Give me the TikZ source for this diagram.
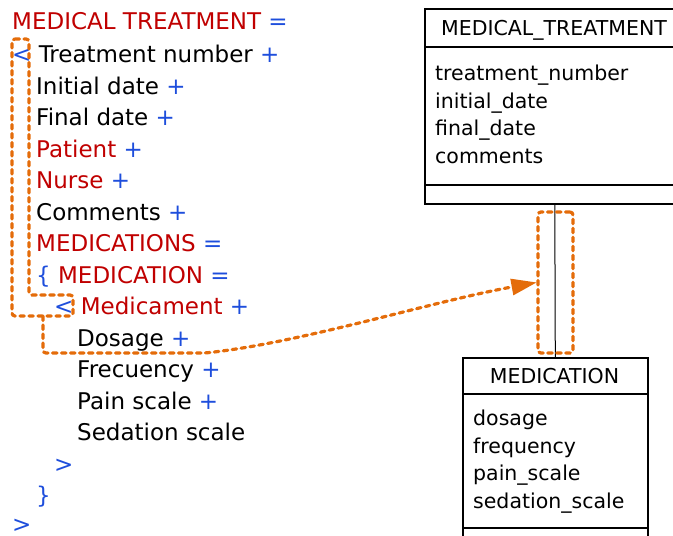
\documentclass[tikz,border=0pt]{standalone}
\usepackage{fontspec}
\setmainfont{DejaVu Sans}
\usetikzlibrary{arrows.meta}
\definecolor{dred}{RGB}{192,0,0}
\definecolor{dblue}{RGB}{30,78,220}
\definecolor{dorange}{RGB}{228,108,10}
\begin{document}
\begin{tikzpicture}[x=1pt,y=-1pt,
  txt/.style={anchor=base west,inner sep=0pt,font=\fontsize{23}{28}\selectfont},
  att/.style={anchor=base west,inner sep=0pt,font=\fontsize{20.5}{25}\selectfont},
  hdr/.style={anchor=base,inner sep=0pt,font=\fontsize{20.5}{25}\selectfont},
  box/.style={draw=black,line width=1.6pt,inner sep=0pt,anchor=north west},
  odash/.style={draw=dorange,line width=3.2pt,dash pattern=on 4.5pt off 4.5pt,line cap=round,rounded corners=3pt},
  conn/.style={draw=black,line width=1pt}]
\useasboundingbox (0,0) rectangle (673,536);
\clip (0,0) rectangle (673,536);
% left text
\node[txt] (t0) at (12,29) {\textcolor{dred}{MEDICAL TREATMENT} \textcolor{dblue}{=}};
\node[txt] (t1) at (12,62.5) {\textcolor{dblue}{<} Treatment number \textcolor{dblue}{+}};
\node[txt] (t2) at (36,94) {Initial date \textcolor{dblue}{+}};
\node[txt] (t3) at (36,125.5) {Final date \textcolor{dblue}{+}};
\node[txt] (t4) at (36,157) {\textcolor{dred}{Patient} \textcolor{dblue}{+}};
\node[txt] (t5) at (36,188.5) {\textcolor{dred}{Nurse} \textcolor{dblue}{+}};
\node[txt] (t6) at (36,220) {Comments \textcolor{dblue}{+}};
\node[txt] (t7) at (36,251.5) {\textcolor{dred}{MEDICATIONS} \textcolor{dblue}{=}};
\node[txt] (t8) at (36,283) {\textcolor{dblue}{\{} \textcolor{dred}{MEDICATION} \textcolor{dblue}{=}};
\node[txt] (t9) at (54,314.5) {\textcolor{dblue}{<} \textcolor{dred}{Medicament} \textcolor{dblue}{+}};
\node[txt] (t10) at (77,346) {Dosage \textcolor{dblue}{+}};
\node[txt] (t11) at (77,377.5) {Frecuency \textcolor{dblue}{+}};
\node[txt] (t12) at (77,409) {Pain scale \textcolor{dblue}{+}};
\node[txt] (t13) at (77,440.5) {Sedation scale};
\node[txt] (t14) at (54,472) {\textcolor{dblue}{>}};
\node[txt] (t15) at (36,503.5) {\textcolor{dblue}{\}}};
\node[txt] (t16) at (12,532) {\textcolor{dblue}{>}};
% MEDICAL_TREATMENT box
\node[box,minimum width=260pt,minimum height=195pt] (mt) at (424,8) {};
\draw[line width=1.6pt] (424,47) -- (684,47);
\draw[line width=1.6pt] (424,185) -- (684,185);
\node[hdr] (mth) at (554,35) {MEDICAL\_TREATMENT};
\node[att] (mta1) at (435,80) {treatment\_number};
\node[att] (mta2) at (435,108) {initial\_date};
\node[att] (mta3) at (435,135) {final\_date};
\node[att] (mta4) at (435,163) {comments};
% MEDICATION box
\node[box,minimum width=185pt,minimum height=200pt] (med) at (462,357) {};
\draw[line width=1.6pt] (462,394) -- (647,394);
\draw[line width=1.6pt] (462,528) -- (647,528);
\node[hdr] (medh) at (554.5,383) {MEDICATION};
\node[att] (meda1) at (473,425) {dosage};
\node[att] (meda2) at (473,453) {frequency};
\node[att] (meda3) at (473,480.5) {pain\_scale};
\node[att] (meda4) at (473,508) {sedation\_scale};
% connector
\draw[conn] (mt.south) -- (med.north);
% orange selection marks
\node[odash,inner sep=0pt,minimum width=35pt,minimum height=141pt] (sel) at (555.5,282.5) {};
\draw[odash] (12,39) -- (29,39) -- (29,295) -- (73,295) -- (73,316) -- (12,316) -- cycle;
\coordinate (c1) at (43,316);
\coordinate (c2) at (205,353);
\draw[odash,-{Triangle[length=25pt,width=17pt,fill=dorange,line width=0pt]}] (c1) -- (43,353) -- (c2) .. controls (300,343) and (430,302) .. (sel.west);
\end{tikzpicture}
\end{document}
